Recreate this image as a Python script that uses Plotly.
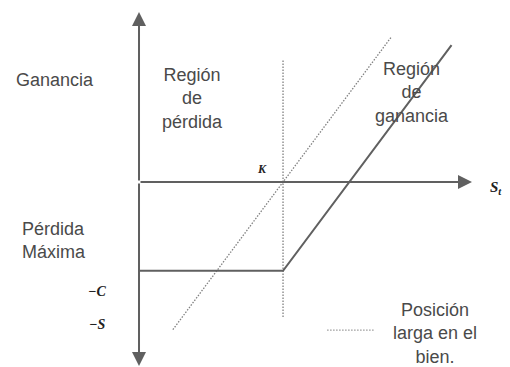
import plotly.graph_objects as go

# ---- data (price units / payoff units) ----
K = 100            # strike
C = 46             # premium paid (max loss)
call_prices = [0, K, 217]
call_payoff = [max(s - K, 0) - C for s in call_prices]
stock_prices = [23.5, 175.5]
stock_payoff = [s - K for s in stock_prices]
k_line_y = [63, -70]

x_range = [-90.97, 257.6]
y_range = [-95.85, 90.2]
axis_top, axis_bottom, axis_right = 88.1, -95.3, 231.2

line_col = "#606060"
dot_col = "#808080"
txt_col = "#4a4a4a"
sans = "Liberation Sans, Arial, sans-serif"
serif = "Liberation Serif, Times New Roman, serif"
dotted = "1.5px,1.5px"

fig = go.Figure()
fig.add_trace(go.Scatter(x=[K, K], y=k_line_y, mode="lines",
                         line=dict(color=dot_col, width=1.3, dash=dotted), showlegend=False))
fig.add_trace(go.Scatter(x=stock_prices, y=stock_payoff, mode="lines",
                         line=dict(color=dot_col, width=1.3, dash=dotted), showlegend=False))
fig.add_trace(go.Scatter(x=call_prices, y=call_payoff, mode="lines",
                         line=dict(color=line_col, width=2), showlegend=False))

ann = []
# axes arrows
for (xt, yt) in [(0, axis_top), (0, axis_bottom), (axis_right, 0)]:
    ann.append(dict(x=xt, y=yt, ax=0, ay=0, xref="x", yref="y", axref="x", ayref="y",
                    showarrow=True, arrowhead=2, arrowsize=1.4, arrowwidth=2,
                    arrowcolor=line_col, standoff=0, text=""))

def t(x, y, s, size=18, font=sans, xanchor="center", align="center", color=txt_col):
    ann.append(dict(x=x, y=y, text=s, showarrow=False, xref="x", yref="y",
                    xanchor=xanchor, yanchor="middle", align=align,
                    font=dict(family=font, size=size, color=color)))

t(-86.8, 52.8, "Ganancia", xanchor="left", align="left")
t(36.8, 43.5, "Región<br>de<br>pérdida")
t(189.6, 46.4, "Región<br>de<br>ganancia")
t(-82.6, -30.3, "Pérdida<br>Máxima", xanchor="left", align="left")
t(205.6, -78.5, "Posición<br>larga en el<br>bien.")
t(85.4, 6.7, "<b><i>K</i></b>", size=12, font=serif, color="#222")
t(248, -3.1, "<b><i>S<sub>t</sub></i></b>", size=15, font=serif, color="#222")
t(-29.2, -56.5, "<b><i>−C</i></b>", size=14, font=serif, color="#222")
t(-29.2, -73.6, "<b><i>−S</i></b>", size=14, font=serif, color="#222")

fig.update_layout(
    width=502, height=359, margin=dict(l=0, r=0, t=0, b=0),
    paper_bgcolor="white", plot_bgcolor="white",
    xaxis=dict(range=x_range, visible=False, fixedrange=True),
    yaxis=dict(range=y_range, visible=False, fixedrange=True),
    annotations=ann,
    shapes=[dict(type="line", xref="x", yref="y", x0=130.6, x1=163.9, y0=-76.7, y1=-76.7,
                 line=dict(color="#999999", width=1.3, dash=dotted))],
    showlegend=False,
)
fig.write_html("out.html")
